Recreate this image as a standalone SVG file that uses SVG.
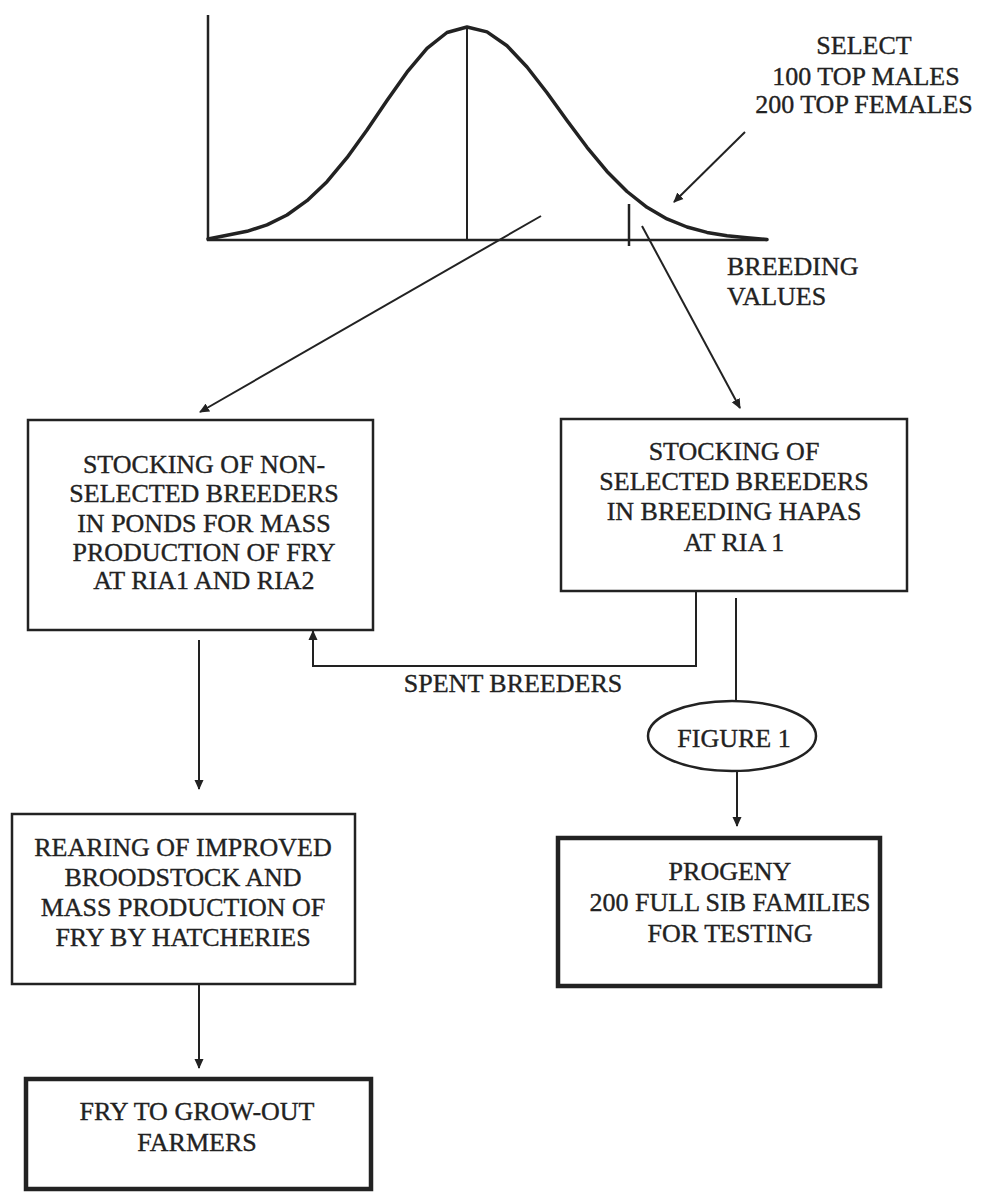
<svg xmlns="http://www.w3.org/2000/svg" width="983" height="1192" viewBox="0 0 983 1192">
<defs>
<style>
.t{font-family:"Liberation Serif","Times New Roman",serif;font-size:26px;fill:#222;stroke:#222;stroke-width:0.35;text-anchor:middle}
.ts{font-family:"Liberation Serif","Times New Roman",serif;font-size:26px;fill:#222;stroke:#222;stroke-width:0.35;text-anchor:start}
.box{fill:#fff;stroke:#222;stroke-width:2.5}
.bold{fill:#fff;stroke:#222;stroke-width:4.5}
.ln{fill:none;stroke:#222;stroke-width:2}
.ax{fill:none;stroke:#222;stroke-width:2.5}
.curve{fill:none;stroke:#222;stroke-width:3.5;stroke-linejoin:round;stroke-linecap:round}
</style>
<marker id="arr" viewBox="0 0 10 10" refX="9" refY="5" markerWidth="10" markerHeight="10" markerUnits="userSpaceOnUse" orient="auto">
<path d="M0,0.5 L10,5 L0,9.5 Z" fill="#222"/>
</marker>
</defs>
<rect width="983" height="1192" fill="#fff"/>
<g id="graph">
<line class="ax" x1="208" y1="15" x2="208" y2="241"/>
<line class="ax" x1="207" y1="240" x2="767" y2="240"/>
<line class="ln" x1="467" y1="27" x2="467" y2="240"/>
<line class="ax" x1="629" y1="204" x2="629" y2="246"/>
<polyline class="curve" points="208,239 227,235.3 247,231.3 267,224.9 287,215 307,200.7 327,181.7 347,157.7 367,129.9 387,100.5 407,72.2 427,48.3 447,32.5 467,27 487,31.9 507,45.8 527,67 547,92.8 567,120.5 587,147.3 607,171.4 627,191.5 647,207.3 667,218.9 687,227 707,232.4 727,235.7 747,237.7 767,239.5"/>
</g>
<g id="select-label">
<text class="t" x="864" y="54">SELECT</text>
<text class="t" x="866" y="85">100 TOP MALES</text>
<text class="t" x="864" y="113">200 TOP FEMALES</text>
</g>
<g id="axis-label">
<text class="ts" x="727" y="275">BREEDING</text>
<text class="ts" x="727" y="305">VALUES</text>
</g>
<g id="non-selected">
<rect class="box" x="28" y="420" width="345" height="210"/>
<text class="t" x="204" y="473">STOCKING OF NON-</text>
<text class="t" x="204" y="502">SELECTED BREEDERS</text>
<text class="t" x="204" y="532">IN PONDS FOR MASS</text>
<text class="t" x="204" y="561">PRODUCTION OF FRY</text>
<text class="t" x="204" y="589">AT RIA1 AND RIA2</text>
</g>
<g id="selected">
<rect class="box" x="561" y="419" width="346" height="172"/>
<text class="t" x="734" y="460">STOCKING OF</text>
<text class="t" x="734" y="490">SELECTED BREEDERS</text>
<text class="t" x="734" y="520">IN BREEDING HAPAS</text>
<text class="t" x="734" y="551">AT RIA 1</text>
</g>
<g id="figure1">
<ellipse fill="#fff" stroke="#222" stroke-width="2.5" cx="732" cy="736" rx="84" ry="35"/>
<text class="t" x="734" y="747">FIGURE 1</text>
</g>
<g id="progeny">
<rect class="bold" x="558" y="838" width="322" height="148"/>
<text class="t" x="730" y="880">PROGENY</text>
<text class="t" x="730" y="911">200 FULL SIB FAMILIES</text>
<text class="t" x="730" y="942">FOR TESTING</text>
</g>
<g id="rearing">
<rect class="box" x="12" y="814" width="343" height="170"/>
<text class="t" x="183" y="856">REARING OF IMPROVED</text>
<text class="t" x="183" y="886">BROODSTOCK AND</text>
<text class="t" x="183" y="916">MASS PRODUCTION OF</text>
<text class="t" x="183" y="946">FRY BY HATCHERIES</text>
</g>
<g id="fry">
<rect class="bold" x="26" y="1079" width="345" height="110"/>
<text class="t" x="197" y="1120">FRY TO GROW-OUT</text>
<text class="t" x="197" y="1151">FARMERS</text>
</g>
<g id="connectors">
<line class="ln" x1="745" y1="132" x2="674" y2="202" marker-end="url(#arr)"/>
<line class="ln" x1="541" y1="216" x2="200" y2="412" marker-end="url(#arr)"/>
<line class="ln" x1="642" y1="226" x2="740" y2="408" marker-end="url(#arr)"/>
<polyline class="ln" points="696,591 696,666 313,666 313,631" marker-end="url(#arr)"/>
<line class="ln" x1="736" y1="598" x2="736" y2="701"/>
<line class="ln" x1="737" y1="771" x2="737" y2="826" marker-end="url(#arr)"/>
<line class="ln" x1="199" y1="640" x2="199" y2="789" marker-end="url(#arr)"/>
<line class="ln" x1="199" y1="984" x2="199" y2="1068" marker-end="url(#arr)"/>
<text class="t" x="513" y="692">SPENT BREEDERS</text>
</g>
</svg>
